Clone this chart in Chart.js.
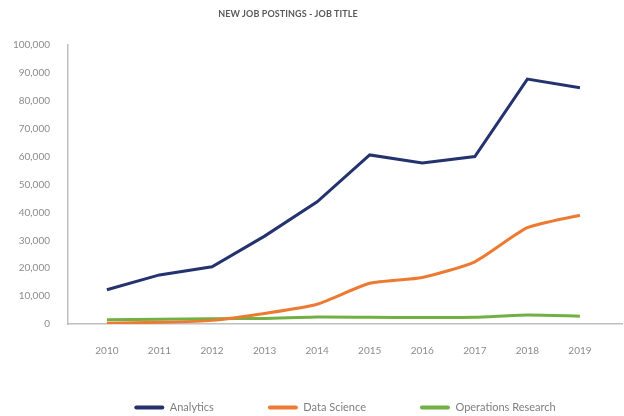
<!DOCTYPE html>
<html>
<head>
<meta charset="utf-8">
<script src="https://cdn.jsdelivr.net/npm/chart.js@4/dist/chart.umd.min.js"></script>
<style>
  html, body { margin: 0; padding: 0; background: #ffffff; }
  #wrap { position: relative; width: 624px; height: 416px; }
  #title { position: absolute; left: 0; top: 8px; width: 576px; text-align: center;
           font-family: Lato, "Open Sans", sans-serif; font-weight: bold; font-size: 9px;
           color: #5a5a5a; letter-spacing: 0.1px; }
  canvas { position: absolute; left: 0; top: 0; }
</style>
</head>
<body>
<div id="wrap">
  <canvas id="c" width="624" height="416"></canvas>
  <div id="title">NEW JOB POSTINGS - JOB TITLE</div>
</div>
<script>
const years = [2010, 2011, 2012, 2013, 2014, 2015, 2016, 2017, 2018, 2019];
const analytics = [12300, 17600, 20500, 31500, 43800, 60600, 57700, 60000, 87800, 84700];
const dataScience = [300, 600, 1300, 3800, 7100, 14600, 16700, 22300, 34500, 39000];
const operationsResearch = [1500, 1700, 1900, 2000, 2500, 2400, 2300, 2400, 3200, 2800];
const yTicks = [0, 10000, 20000, 30000, 40000, 50000, 60000, 70000, 80000, 90000, 100000];

const FONT = 'Lato, "Open Sans", sans-serif';
const toXY = arr => arr.map((v, i) => ({ x: years[i], y: v }));

new Chart(document.getElementById('c'), {
  type: 'line',
  data: {
    datasets: [
      { label: 'Analytics', data: toXY(analytics), borderColor: '#24326e', backgroundColor: '#24326e', borderWidth: 3, pointRadius: 0, tension: 0 },
      { label: 'Data Science', data: toXY(dataScience), borderColor: '#ec7a33', backgroundColor: '#ec7a33', borderWidth: 3, pointRadius: 0, tension: 0.2 },
      { label: 'Operations Research', data: toXY(operationsResearch), borderColor: '#72b043', backgroundColor: '#72b043', borderWidth: 3, pointRadius: 0, tension: 0.2 }
    ]
  },
  options: {
    responsive: false,
    animation: false,
    layout: { padding: { top: 45, right: 2, left: 0, bottom: 0 } },
    plugins: {
      title: { display: false },
      tooltip: { enabled: false },
      legend: {
        position: 'bottom',
        fullSize: false,
        maxHeight: 68,
        labels: {
          boxWidth: 30,
          boxHeight: 4,
          padding: 54,
          color: '#7f7f7f',
          font: { family: FONT, size: 11 },
          useBorderRadius: true,
          borderRadius: 2,
          generateLabels(chart) {
            const items = Chart.defaults.plugins.legend.labels.generateLabels(chart);
            items.forEach(it => { it.lineWidth = 0; it.fillStyle = it.strokeStyle; });
            return items;
          }
        }
      }
    },
    scales: {
      x: {
        type: 'linear',
        min: 2009.26,
        max: 2019.8,
        grid: { display: false, drawTicks: false },
        border: { display: true, color: '#bfbfbf', width: 1.5 },
        afterBuildTicks(scale) { scale.ticks = years.map(v => ({ value: v })); },
        afterFit(scale) {
          scale.height = 24;
          // labels sit below the shortened axis box; do not clip them to it
          scale._computeLabelArea = () => undefined;
        },
        ticks: {
          padding: 21,
          color: '#8c8c8c',
          font: { family: FONT, size: 10 },
          maxRotation: 0,
          autoSkip: false,
          callback: v => String(v)
        }
      },
      y: {
        min: 0,
        max: 100000,
        grid: { display: false, drawTicks: false },
        border: { display: true, color: '#bfbfbf', width: 1.5 },
        afterBuildTicks(scale) { scale.ticks = yTicks.map(v => ({ value: v })); },
        afterFit(scale) { scale.width = 68; },
        ticks: {
          padding: 18,
          color: '#8c8c8c',
          font: { family: FONT, size: 10 },
          callback: v => v.toLocaleString('en-US')
        }
      }
    }
  }
});
</script>
</body>
</html>
